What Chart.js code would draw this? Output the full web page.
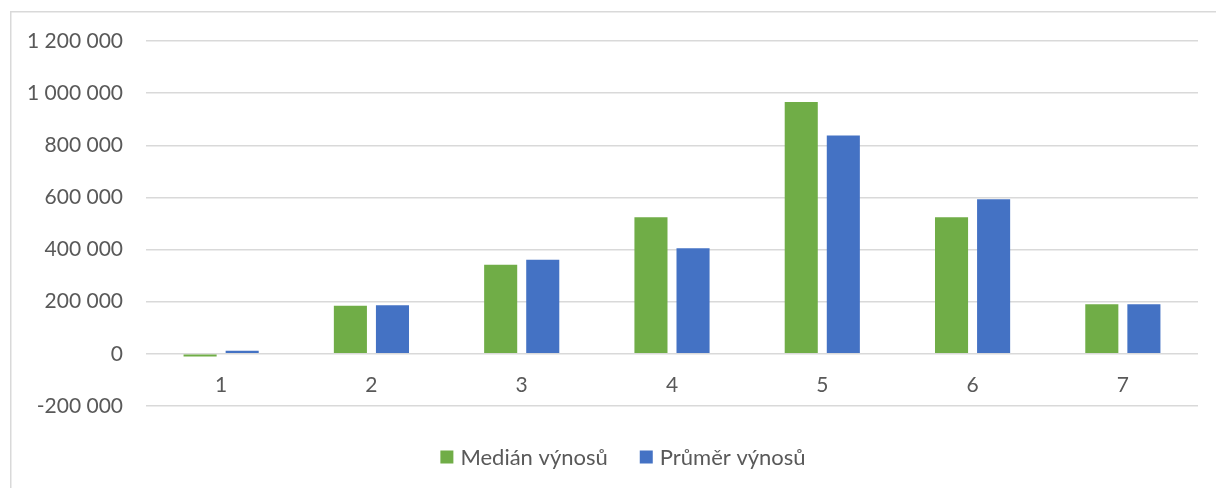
<!DOCTYPE html>
<html><head><meta charset="utf-8">
<script src="https://cdn.jsdelivr.net/npm/chart.js@4/dist/chart.umd.min.js"></script>
<style>html,body{margin:0;padding:0;background:#fff;overflow:hidden;} #wrap{width:1216px;height:488px;position:relative;}</style>
</head><body><div id="wrap"><canvas id="c" width="1216" height="488"></canvas></div>
<script>
const categories = ['1', '2', '3', '4', '5', '6', '7'];
const medianVynosu = [-10000, 185000, 342000, 524000, 966000, 524000, 190000];
const prumerVynosu = [12000, 186000, 361000, 405000, 838000, 593000, 190000];
const seriesNames = ['Medián výnosů', 'Průměr výnosů'];
const seriesColors = ['#70ad47', '#4472c4'];
const yMin = -200000, yMax = 1200000, yStep = 200000;

const FONT = 'Lato, "Liberation Sans", sans-serif';
const TEXT = '#595959';

function fmt(v) {
  const s = String(Math.abs(v)).replace(/\B(?=(\d{3})+(?!\d))/g, ' ');
  return (v < 0 ? '-' : '') + s;
}

const frame = {
  id: 'frame',
  beforeDraw(chart) {
    const ctx = chart.ctx;
    ctx.save();
    ctx.fillStyle = '#fff';
    ctx.fillRect(0, 0, chart.width, chart.height);
    ctx.strokeStyle = '#d9d9d9';
    ctx.lineWidth = 1.5;
    ctx.beginPath();
    ctx.moveTo(10.75, chart.height);
    ctx.lineTo(10.75, 11.75);
    ctx.lineTo(chart.width, 11.75);
    ctx.stroke();
    ctx.restore();
  }
};

const customLegend = {
  id: 'customLegend',
  afterDraw(chart, args, opts) {
    const ctx = chart.ctx;
    ctx.save();
    ctx.font = '22px ' + FONT;
    ctx.textBaseline = 'middle';
    const box = 13, gap = 7, spacing = 32;
    const items = chart.data.datasets.map(d => ({ text: d.label, color: d.backgroundColor, w: ctx.measureText(d.label).width }));
    let total = 0;
    items.forEach((it, i) => { total += box + gap + it.w + (i < items.length - 1 ? spacing : 0); });
    let x = opts.centerX - total / 2;
    const y = opts.centerY;
    items.forEach(it => {
      ctx.fillStyle = it.color;
      ctx.fillRect(x, y - box / 2, box, box);
      ctx.fillStyle = TEXT;
      ctx.fillText(it.text, x + box + gap, y + 1);
      x += box + gap + it.w + spacing;
    });
    ctx.restore();
  }
};

new Chart(document.getElementById('c'), {
  type: 'bar',
  data: {
    labels: categories,
    datasets: [
      { label: seriesNames[0], data: medianVynosu, backgroundColor: seriesColors[0] },
      { label: seriesNames[1], data: prumerVynosu, backgroundColor: seriesColors[1] }
    ]
  },
  options: {
    responsive: false,
    animation: false,
    devicePixelRatio: 1,
    layout: { padding: { left: 0, right: 18, top: 41, bottom: 82 } },
    datasets: { bar: { categoryPercentage: 0.56, barPercentage: 0.786 } },
    plugins: {
      legend: { display: false },
      tooltip: { enabled: false },
      customLegend: { centerX: 623, centerY: 457 }
    },
    scales: {
      x: {
        position: { y: 0 },
        grid: { display: false, drawTicks: false },
        border: { display: false },
        ticks: { color: TEXT, font: { family: FONT, size: 21 }, padding: 19 }
      },
      y: {
        min: yMin, max: yMax,
        grid: { color: '#d9d9d9', lineWidth: 1.5, drawTicks: false },
        border: { display: false },
        ticks: { stepSize: yStep, color: TEXT, font: { family: FONT, size: 21 }, padding: 23, callback: v => fmt(v) },
        afterFit(s) { s.width = 146; }
      }
    }
  },
  plugins: [frame, customLegend]
});
</script>
</body></html>
